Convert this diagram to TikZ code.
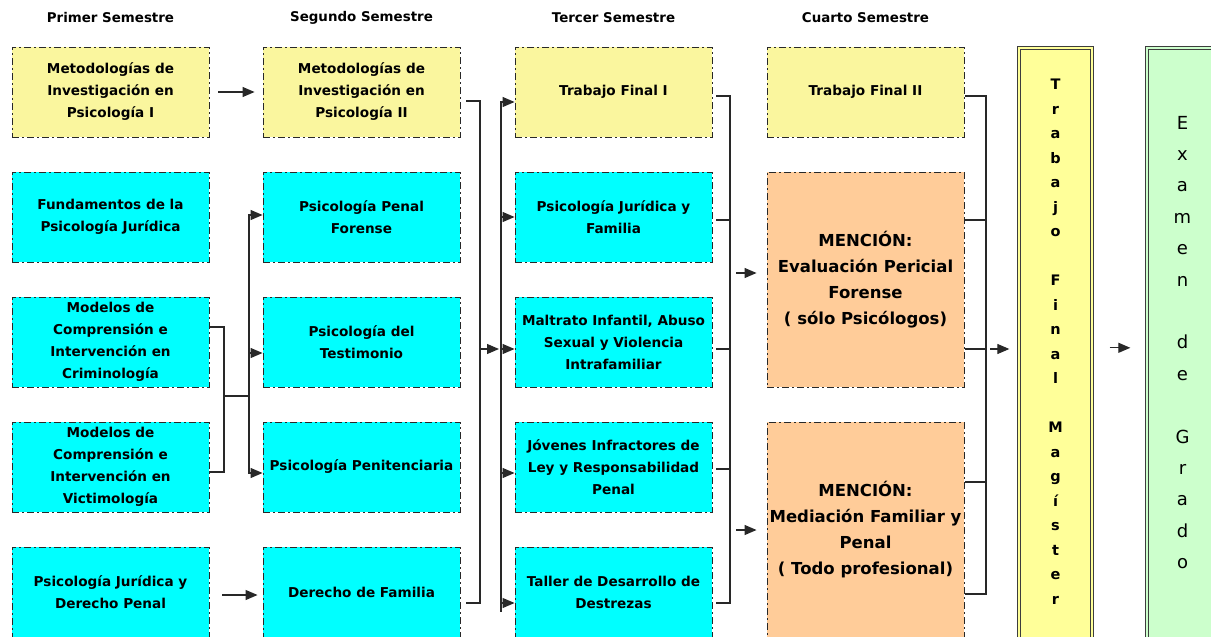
\documentclass[tikz,border=0pt]{standalone}
\usepackage{fontspec}
\setmainfont{DejaVu Sans}
\usetikzlibrary{arrows.meta}

\definecolor{amarillo}{RGB}{250,246,158}
\definecolor{amarillotfm}{RGB}{255,255,153}
\definecolor{celeste}{RGB}{0,255,255}
\definecolor{durazno}{RGB}{255,204,153}
\definecolor{verde}{RGB}{204,255,204}
\definecolor{trazo}{RGB}{40,40,40}

\begin{document}
\begin{tikzpicture}[x=1pt, y=-1pt]
  \tikzstyle{ramo}=[draw=trazo, line width=0.9pt, dash pattern=on 7pt off 3pt on 2pt off 3pt, minimum width=197pt, minimum height=90pt, inner sep=0pt, align=center, font=\fontsize{13.6}{22}\selectfont\bfseries]
  \tikzstyle{mencion}=[ramo, fill=durazno, minimum height=215pt, font=\fontsize{16.5}{26}\selectfont\bfseries]
  \tikzstyle{titulo}=[font=\fontsize{13.4}{16}\selectfont\bfseries]
  \tikzstyle{columna}=[draw=trazo!90, line width=0.9pt, double distance=2pt, minimum width=73.4pt, minimum height=600pt, inner sep=0pt]
  \tikzstyle{conector}=[draw=trazo, line width=1.2pt]
  \tikzstyle{flecha}=[conector, -{Triangle[length=12pt,width=10pt]}]

  \useasboundingbox (0, 0) rectangle (1211, 637);

  \node[titulo] (h1) at (110.5, 18) {Primer Semestre};
  \node[titulo] (h2) at (361.5, 18) {Segundo Semestre};
  \node[titulo] (h3) at (613.5, 18) {Tercer Semestre};
  \node[titulo] (h4) at (865.5, 18) {Cuarto Semestre};

  \node[ramo, fill=amarillo] (a1) at (110.5, 92)  {Metodologías de\\Investigación en\\Psicología I};
  \node[ramo, fill=celeste]  (a2) at (110.5, 217) {Fundamentos de la\\Psicología Jurídica};
  \node[ramo, fill=celeste]  (a3) at (110.5, 342) {Modelos de\\Comprensión e\\Intervención en\\Criminología};
  \node[ramo, fill=celeste]  (a4) at (110.5, 467) {Modelos de\\Comprensión e\\Intervención en\\Victimología};
  \node[ramo, fill=celeste]  (a5) at (110.5, 592) {Psicología Jurídica y\\Derecho Penal};

  \node[ramo, fill=amarillo] (b1) at (361.5, 92)  {Metodologías de\\Investigación en\\Psicología II};
  \node[ramo, fill=celeste]  (b2) at (361.5, 217) {Psicología Penal\\Forense};
  \node[ramo, fill=celeste]  (b3) at (361.5, 342) {Psicología del\\Testimonio};
  \node[ramo, fill=celeste]  (b4) at (361.5, 467) {Psicología Penitenciaria};
  \node[ramo, fill=celeste]  (b5) at (361.5, 592) {Derecho de Familia};

  \node[ramo, fill=amarillo] (c1) at (613.5, 92)  {Trabajo Final I};
  \node[ramo, fill=celeste]  (c2) at (613.5, 217) {Psicología Jurídica y\\Familia};
  \node[ramo, fill=celeste]  (c3) at (613.5, 342) {Maltrato Infantil, Abuso\\Sexual y Violencia\\Intrafamiliar};
  \node[ramo, fill=celeste]  (c4) at (613.5, 467) {Jóvenes Infractores de\\Ley y Responsabilidad\\Penal};
  \node[ramo, fill=celeste]  (c5) at (613.5, 592) {Taller de Desarrollo de\\Destrezas};

  \node[ramo, fill=amarillo] (d1) at (865.5, 92)    {Trabajo Final II};
  \node[mencion]             (d2) at (865.5, 279.5) {MENCIÓN:\\Evaluación Pericial\\Forense\\( sólo Psicólogos)};
  \node[mencion]             (d3) at (865.5, 529.5) {MENCIÓN:\\Mediación Familiar y\\Penal\\( Todo profesional)};

  \node[columna, fill=amarillotfm, double=amarillotfm] (tfm) at (1055.5, 347.8) {};
  \node[columna, fill=verde, double=verde, minimum width=150pt] (examen) at (1221.8, 347.8) {};
  \node[align=center, font=\fontsize{14.5}{24.5}\selectfont\bfseries] (tfmtxt) at (1055.5, 341.5)
    {T\\r\\a\\b\\a\\j\\o\\[24.5pt]F\\i\\n\\a\\l\\[24.5pt]M\\a\\g\\í\\s\\t\\e\\r};
  \node[align=center, font=\fontsize{18}{31.4}\selectfont] (examentxt) at (1182.5, 342.5)
    {E\\x\\a\\m\\e\\n\\[31.4pt]d\\e\\[31.4pt]G\\r\\a\\d\\o};

  % primero -> segundo
  \draw[flecha, shorten <=9pt, shorten >=8pt] (a1) -- (b1);
  \draw[flecha, shorten <=13pt, shorten >=5pt] ([yshift=-3pt]a5.east) -- ([yshift=-3pt]b5.west);
  \coordinate (j1) at (224, 396);
  \coordinate (j2) at (249, 396);
  \draw[conector] ([yshift=15pt]a3.east) -| (j1) |- ([yshift=-5pt]a4.east);
  \draw[conector] (j1) -- (j2);
  \draw[flecha] (j2) |- ([yshift=2pt]b2.west);
  \draw[flecha] (j2) |- ([yshift=-11pt]b3.west);
  \draw[flecha] (j2) |- ([yshift=-6pt]b4.west);

  % segundo -> tercero
  \coordinate (k1) at (480, 349);
  \coordinate (k2) at (501, 349);
  \coordinate (k3) at (501, 612);
  \draw[conector] ([xshift=6pt, yshift=-9pt]b1.east) -| (k1) |- ([xshift=6pt, yshift=-11pt]b5.east);
  \draw[flecha, shorten >=2pt] (k1) -- (k2);
  \draw[conector] (k2) -- (k3);
  \draw[flecha] (k2) |- ([yshift=-10pt]c1.west);
  \draw[flecha] (k2) |- (c2.west);
  \draw[flecha] (k2) -- ([yshift=-7pt]c3.west);
  \draw[flecha] (k2) |- ([yshift=-6pt]c4.west);
  \draw[flecha] (k2) |- ([yshift=-11pt]c5.west);

  % tercero -> cuarto
  \coordinate (l1) at (730, 96);
  \coordinate (l2) at (730, 603);
  \draw[conector] ([xshift=4pt, yshift=-4pt]c1.east) -- (l1) -- (l2) -- ([xshift=4pt, yshift=-11pt]c5.east);
  \draw[conector] ([xshift=4pt, yshift=-3pt]c2.east) -| (l2);
  \draw[conector] ([xshift=4pt, yshift=-7pt]c3.east) -| (l2);
  \draw[conector] ([xshift=4pt, yshift=-2pt]c4.east) -| (l2);
  \coordinate (l3) at (736, 273);
  \coordinate (l4) at (736, 530);
  \draw[flecha, shorten >=10pt] (l3) -- (l3 -| d2.west);
  \draw[flecha, shorten >=10pt] (l4) -- (l4 -| d3.west);

  % cuarto -> trabajo final y examen
  \coordinate (m1) at (986, 96);
  \coordinate (m2) at (986, 349);
  \coordinate (m3) at (986, 594);
  \draw[conector] ([xshift=1pt, yshift=-4pt]d1.east) -- (m1) -- (m3) -- ([xshift=1pt]d3.east |- m3);
  \draw[conector] ([xshift=1pt, yshift=59.5pt]d2.east) -| (m3);
  \draw[conector] ([xshift=1pt, yshift=-69.5pt]d2.east) -| (m3);
  \draw[conector] ([xshift=1pt, yshift=47.5pt]d3.east) -| (m3);
  \draw[flecha, shorten <=4pt, shorten >=9pt] (m2) -- (m2 -| tfm.west);
  \draw[flecha, shorten <=17pt, shorten >=16pt] (tfm) -- (examen);

\end{tikzpicture}
\end{document}
